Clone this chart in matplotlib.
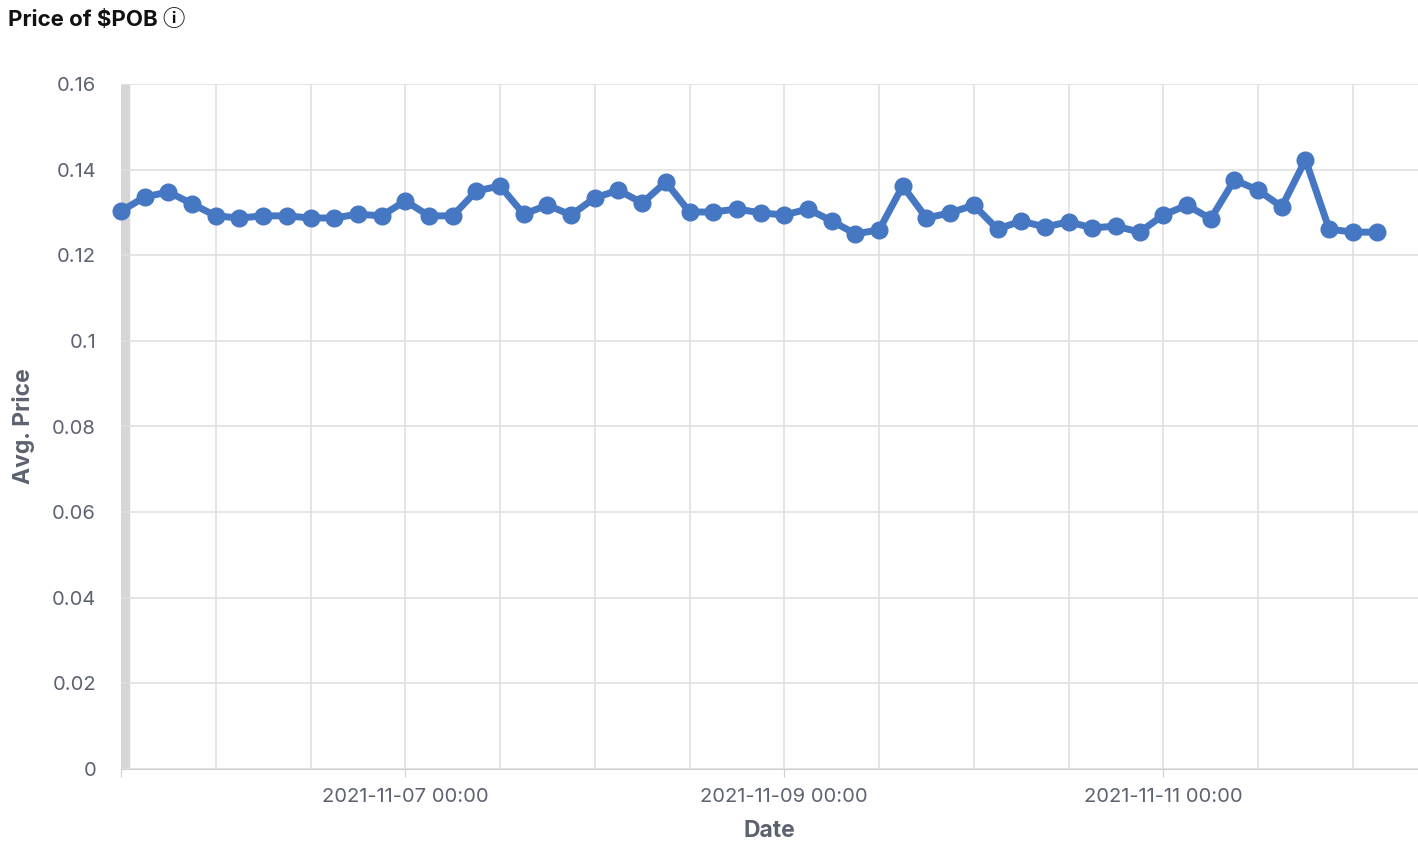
import matplotlib
matplotlib.use("Agg")
import matplotlib.pyplot as plt
import pandas as pd

plt.rcParams['font.family'] = ['Inter', 'Noto Sans CJK SC', 'DejaVu Sans']

start = "2021-11-05 12:00"
prices = [0.1303,0.1336,0.1348,0.1320,0.1292,0.1287,0.1292,0.1292,0.1287,0.1287,
          0.1296,0.1292,0.1327,0.1292,0.1292,0.1350,0.1362,0.1296,0.1317,0.1294,
          0.1334,0.1352,0.1322,0.1371,0.1301,0.1301,0.1308,0.1299,0.1294,0.1308,
          0.1280,0.1250,0.1259,0.1362,0.1287,0.1299,0.1317,0.1261,0.1280,0.1266,
          0.1278,0.1264,0.1268,0.1254,0.1294,0.1317,0.1285,0.1376,0.1352,0.1313,
          0.1423,0.1261,0.1254,0.1254]
dates = pd.date_range(start, periods=len(prices), freq="3h")
yticks = [0, 0.02, 0.04, 0.06, 0.08, 0.1, 0.12, 0.14, 0.16]
ytick_labels = ["0", "0.02", "0.04", "0.06", "0.08", "0.1", "0.12", "0.14", "0.16"]
xtick_dates = pd.to_datetime(["2021-11-07 00:00", "2021-11-09 00:00", "2021-11-11 00:00"])

fig = plt.figure(figsize=(14.18, 8.55), dpi=100)
ax = fig.add_axes([121/1418, 1-769/855, 1-121/1418, (769-84)/855])
color = "#4677c2"
grid_c = "#e0e0e0"
ax.plot(dates, prices, color=color, lw=5, marker="o", ms=12, clip_on=False, zorder=3)
ax.set_ylim(0, 0.16)
x0 = pd.Timestamp(start)
ax.set_xlim(x0, pd.Timestamp("2021-11-12 08:15"))
ax.axvspan(x0, x0 + pd.Timedelta(minutes=60), color="#d6d6d6", zorder=1)
ax.set_yticks(yticks)
ax.set_yticklabels(ytick_labels)
ax.yaxis.grid(True, color=grid_c, lw=1.2)
for g in pd.date_range("2021-11-06 00:00", "2021-11-12 06:00", freq="12h"):
    ax.axvline(g, color=grid_c, lw=1.2, zorder=0)
ax.set_xticks([x0] + list(xtick_dates))
ax.set_xticklabels([""] + [d.strftime("%Y-%m-%d %H:%M") for d in xtick_dates])
for s in ["top", "right", "left"]:
    ax.spines[s].set_visible(False)
ax.spines["bottom"].set_color("#cfcfcf")
ax.tick_params(axis="y", length=0, pad=18, labelsize=14.5, labelcolor="#5c6270")
ax.tick_params(axis="x", length=6, color="#cfcfcf", pad=8, labelsize=14.5, labelcolor="#5c6270")
ax.set_xlabel("Date", fontsize=16.5, fontweight="bold", color="#5c6270", labelpad=10)
ax.set_ylabel("Avg. Price", fontsize=16.5, fontweight="bold", color="#5c6270", labelpad=12)
fig.text(8/1418, 1-20/855, "Price of $POB ⓘ", fontsize=16, fontweight="bold",
         color="#111111", va="center", ha="left")
fig.savefig("out.png", dpi=100)
